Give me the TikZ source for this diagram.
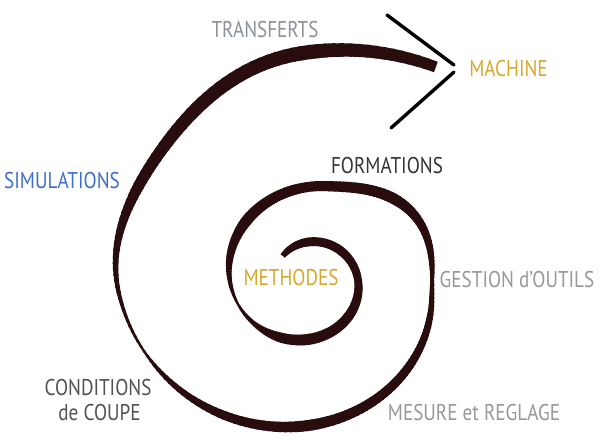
\documentclass[tikz,border=0pt]{standalone}
\usepackage{fontspec}
\setmainfont[FakeStretch=0.84]{PT Sans}
\definecolor{spiralcol}{RGB}{40,12,14}
\definecolor{goldtxt}{RGB}{214,168,44}
\definecolor{bluetxt}{RGB}{62,112,200}
\definecolor{darktxt}{RGB}{52,52,52}
\definecolor{graytxt}{RGB}{140,146,152}
\definecolor{lgraytxt}{RGB}{150,152,155}
\newcommand\sprpt[1]{%
  \pgfmathsetmacro\sr{exp(0.0024892*(#1))*(1+0.12*ifthenelse(abs((#1)-415)<45,(1+cos(4*((#1)-415)))/2,0)-0.06*ifthenelse(abs((#1)-672)<45,(1+cos(4*((#1)-672)))/2,0))}%
  \pgfmathsetmacro\px{308+40*\sr*sin(#1)}%
  \pgfmathsetmacro\py{280-38*\sr*cos(#1)}%
}
\begin{document}
\begin{tikzpicture}[x=1pt,y=-1pt,
  spiralseg/.style={draw=spiralcol,line cap=butt},
  arrowline/.style={draw=black,line width=3.4pt,line cap=round},
  lbl/.style={inner sep=0pt,anchor=base,font=\fontsize{22.8}{25}\selectfont}]
\fill[white] (0,0) rectangle (600,444);
\useasboundingbox (0,0) rectangle (600,444);
% spiral ribbon
\foreach \pa/\wa/\pb/\wb in {-45/5/-20/7,-20/7/0/8,0/8/45/8,45/8/90/7,90/7/135/9,135/9/180/10,
  180/10/205/9,205/9/230/4,230/4/250/2,250/2/270/4,270/4/290/7,290/7/315/10,315/10/360/9,
  360/9/405/10,405/10/435/6,435/6/450/3.5,450/3.5/470/6,470/6/495/8,495/8/540/10,
  540/10/570/8,570/8/590/5,590/5/605/2,605/2/620/3,620/3/635/5,635/5/645/7,645/7/660/10,
  660/10/690/12,690/12/720/13,720/13/749/10}{
  \pgfmathtruncatemacro\nn{max(1,round(abs(\pb-\pa)/2))}
  \foreach \i in {1,...,\nn}{
    \pgfmathsetmacro\ta{\pa+(\i-1)*(\pb-\pa)/\nn}
    \pgfmathsetmacro\tb{\pa+\i*(\pb-\pa)/\nn+0.7}
    \pgfmathsetmacro\ww{1.1*(\wa+(\i-0.5)*(\wb-\wa)/\nn)}
    \sprpt{\ta}\let\xa\px\let\ya\py
    \sprpt{\tb}
    \draw[spiralseg,line width=\ww pt] (\xa,\ya) -- (\px,\py);
  }
}
% arrow head
\coordinate (ha) at (387,15);
\coordinate (hb) at (454,65);
\coordinate (hc) at (454,72);
\coordinate (hd) at (391,128);
\draw[arrowline] (ha) -- (hb);
\draw[arrowline] (hc) -- (hd);
% labels
\node[lbl,text=graytxt] (transferts) at (265,38) {TRANSFERTS};
\node[lbl,text=goldtxt] (machine) at (508.5,77) {MACHINE};
\node[lbl,text=bluetxt] (simulations) at (62,188) {SIMULATIONS};
\node[lbl,text=darktxt] (formations) at (387,173) {FORMATIONS};
\node[lbl,text=goldtxt] (methodes) at (291,285) {METHODES};
\node[lbl,text=lgraytxt] (gestion) at (517,287) {GESTION d’OUTILS};
\node[lbl,text=darktxt!85] (conditions) at (98,395) {CONDITIONS};
\node[lbl,text=darktxt!85] (coupe) at (99.5,420) {de COUPE};
\node[lbl,text=lgraytxt] (mesure) at (474,420) {MESURE et REGLAGE};
\end{tikzpicture}
\end{document}
